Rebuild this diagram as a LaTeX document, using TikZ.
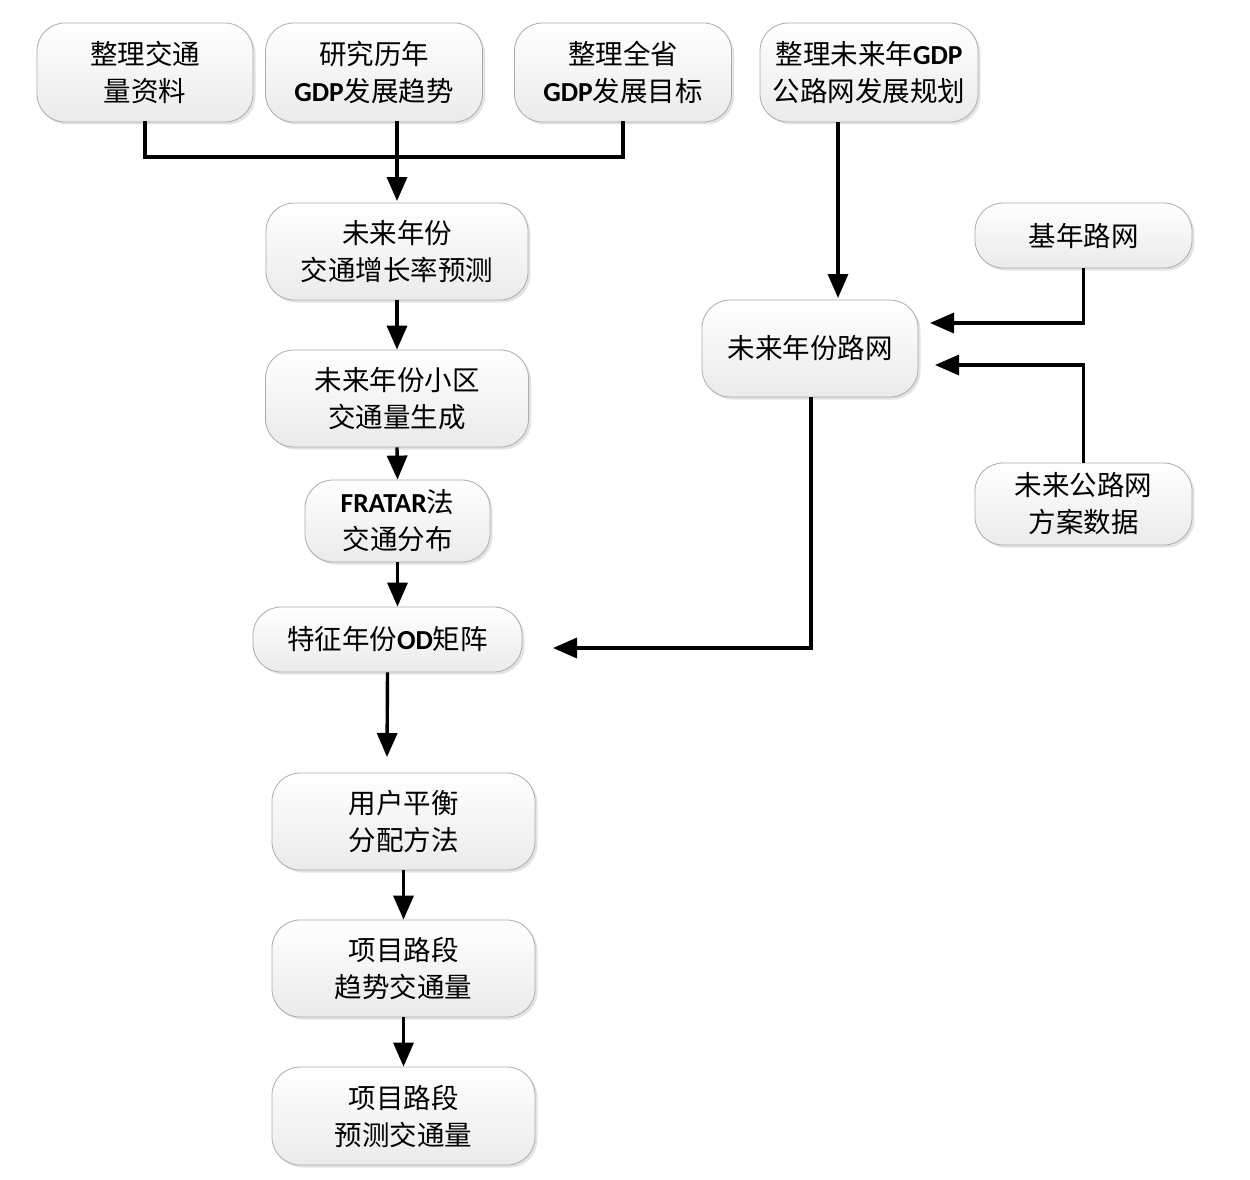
\documentclass[tikz,border=0pt]{standalone}
\usepackage{fontspec}
\setmainfont{Noto Sans CJK SC}
\newfontfamily\calfont{Carlito}
\newcommand{\lb}[1]{{\calfont\bfseries #1}}
\usetikzlibrary{arrows.meta,shadows}
\begin{document}
\begin{tikzpicture}[x=1pt,y=-1pt,
  box/.style={draw=gray!65, line width=0.8pt, rounded corners=28pt,
    top color=white, bottom color=gray!16,
    drop shadow={opacity=0.22, shadow xshift=2.5pt, shadow yshift=-2.5pt, fill=gray},
    align=center, inner sep=0pt, font=\fontsize{27.5}{37}\selectfont},
  link/.style={line width=3.4pt, line cap=rect},
  arr/.style={link, -{Triangle[length=24pt,width=20pt]}, line cap=butt}]
\useasboundingbox (0,0) rectangle (1250,1180);
\fill[white] (0,0) rectangle (1250,1180);

\node[box, minimum width=216pt, minimum height=99pt] (n1) at (145,72.5) {整理交通\\量资料};
\node[box, minimum width=217pt, minimum height=99pt] (n2) at (374,72.5) {研究历年\\\lb{GDP}发展趋势};
\node[box, minimum width=217pt, minimum height=99pt] (n3) at (623,72.5) {整理全省\\\lb{GDP}发展目标};
\node[box, minimum width=218pt, minimum height=99pt] (n4) at (869,72.5) {整理未来年\lb{GDP}\\公路网发展规划};
\node[box, minimum width=262pt, minimum height=97pt] (n5) at (397,251.5) {未来年份\\交通增长率预测};
\node[box, minimum width=263pt, minimum height=97pt] (n6) at (397,398.5) {未来年份小区\\交通量生成};
\node[box, minimum width=185pt, minimum height=82pt] (n7) at (397.5,521) {\lb{FRATAR}法\\交通分布};
\node[box, minimum width=269pt, minimum height=65pt] (n8) at (387.5,639.5) {特征年份\lb{OD}矩阵};
\node[box, minimum width=263pt, minimum height=97pt] (n9) at (403.5,821.5) {用户平衡\\分配方法};
\node[box, minimum width=263pt, minimum height=97pt] (n10) at (403.5,968.5) {项目路段\\趋势交通量};
\node[box, minimum width=263pt, minimum height=98pt] (n11) at (403.5,1116) {项目路段\\预测交通量};
\node[box, minimum width=217pt, minimum height=65pt] (n12) at (1083.5,235.5) {基年路网};
\node[box, minimum width=216pt, minimum height=97pt] (n13) at (810,348.5) {未来年份路网};
\node[box, minimum width=217pt, minimum height=82pt] (n14) at (1083.5,504) {未来公路网\\方案数据};

\coordinate (j) at (397,157);
\coordinate (t5) at (397,201);
\coordinate (a1) at (930,323);
\coordinate (a2) at (935,365);
\coordinate (a3) at (553,648);
\coordinate (a4) at (387,757);
\coordinate (s4) at (838,122);
\coordinate (t13) at (838,298);

\draw[link] (n1.south) |- (j);
\draw[link] (n3.south) |- (j);
\draw[link] (n2.south -| j) -- (j);
\draw[arr] (j) -- (t5);
\draw[arr] (s4) -- (t13);
\draw[arr] (n12.south) |- (a1);
\draw[arr] (n14.north) |- (a2);
\draw[arr] ([xshift=1pt]n13.south) |- (a3);
\draw[arr] (n5.south) -- (n6.north);
\draw[arr] (n6.south) -- (n7.north);
\draw[arr] (n7.south) -- (n7.south |- n8.north);
\draw[arr] (n8.south) -- (a4);
\draw[arr] (n9.south) -- (n10.north);
\draw[arr] (n10.south) -- (n11.north);
\end{tikzpicture}
\end{document}
